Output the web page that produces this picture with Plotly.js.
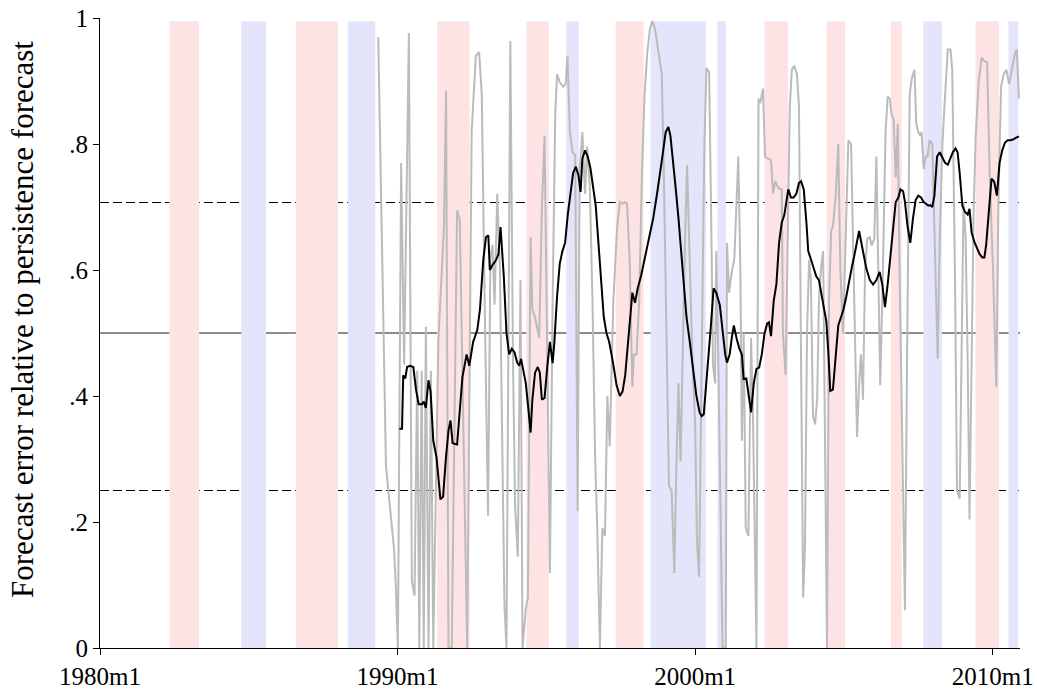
<!DOCTYPE html>
<html>
<head>
<meta charset="utf-8">
<script src="https://cdn.plot.ly/plotly-3.0.1.min.js"></script>
<style>html,body{margin:0;padding:0;background:#fff;}#chart{width:1037px;height:692px;}</style>
</head>
<body>
<div id="chart"></div>
<script>
// x tick labels (Stata-style monthly dates)
var xTickVals = [1980, 1990, 2000, 2010];
var xTickText = ["1980m1", "1990m1", "2000m1", "2010m1"];
var yTickVals = [0, 0.2, 0.4, 0.6, 0.8, 1];
var yTickText = ["0", ".2", ".4", ".6", ".8", "1"];

// shaded periods (decimal years)
var pinkStart = [1982.33, 1986.58, 1991.33, 1994.33, 1997.33, 2002.33, 2004.42, 2006.58, 2009.42];
var pinkEnd   = [1983.33, 1988.00, 1992.42, 1995.08, 1998.27, 2003.12, 2005.04, 2006.94, 2010.21];
var blueStart = [1984.75, 1988.33, 1995.67, 1998.50, 2000.75, 2007.67, 2010.53];
var blueEnd   = [1985.58, 1989.25, 1996.09, 2000.36, 2001.03, 2008.29, 2010.86];

// reference lines
var refSolid = [0.5];
var refDashed = [0.7071, 0.25];

// grey series: raw relative forecast error
var greyX = [1989.35,1989.61,1989.88,1989.94,1990.01,1990.12,1990.22,1990.38,1990.48,1990.57,1990.66,1990.73,1990.81,1990.88,1990.95,1991.04,1991.12,1991.20,1991.37,1991.48,1991.56,1991.63,1991.71,1991.82,1992.00,1992.09,1992.34,1992.49,1992.63,1992.74,1992.83,1992.93,1993.04,1993.12,1993.19,1993.26,1993.35,1993.44,1993.53,1993.59,1993.66,1993.79,1993.88,1993.95,1994.04,1994.13,1994.20,1994.31,1994.38,1994.47,1994.53,1994.62,1994.76,1994.85,1994.94,1995.03,1995.12,1995.21,1995.30,1995.36,1995.45,1995.56,1995.65,1995.71,1995.79,1995.88,1995.97,1996.05,1996.12,1996.21,1996.30,1996.37,1996.46,1996.55,1996.64,1996.71,1996.80,1996.88,1996.97,1997.05,1997.13,1997.25,1997.38,1997.47,1997.56,1997.65,1997.71,1997.80,1997.89,1997.94,1998.03,1998.12,1998.21,1998.30,1998.39,1998.48,1998.56,1998.65,1998.77,1998.88,1998.95,1999.03,1999.12,1999.21,1999.30,1999.37,1999.44,1999.51,1999.59,1999.66,1999.73,1999.82,1999.91,2000.00,2000.06,2000.13,2000.22,2000.31,2000.38,2000.47,2000.54,2000.60,2000.67,2000.71,2000.78,2000.85,2000.92,2001.03,2001.07,2001.14,2001.21,2001.32,2001.39,2001.45,2001.52,2001.57,2001.63,2001.70,2001.79,2001.88,2001.95,2002.01,2002.06,2002.13,2002.19,2002.28,2002.35,2002.44,2002.55,2002.62,2002.69,2002.75,2002.84,2002.91,2002.95,2003.04,2003.11,2003.18,2003.25,2003.33,2003.42,2003.49,2003.56,2003.63,2003.69,2003.76,2003.83,2003.89,2003.96,2004.03,2004.10,2004.16,2004.23,2004.30,2004.36,2004.43,2004.50,2004.57,2004.63,2004.72,2004.81,2004.88,2004.97,2005.06,2005.15,2005.24,2005.31,2005.37,2005.44,2005.51,2005.57,2005.64,2005.71,2005.78,2005.87,2005.93,2006.02,2006.09,2006.16,2006.22,2006.31,2006.40,2006.47,2006.54,2006.60,2006.67,2006.74,2006.81,2006.87,2006.96,2007.05,2007.12,2007.21,2007.28,2007.37,2007.43,2007.50,2007.57,2007.61,2007.68,2007.75,2007.81,2007.88,2007.97,2008.06,2008.15,2008.22,2008.31,2008.40,2008.49,2008.58,2008.64,2008.73,2008.80,2008.89,2008.96,2009.02,2009.09,2009.16,2009.22,2009.29,2009.36,2009.43,2009.53,2009.63,2009.72,2009.81,2009.90,2010.01,2010.08,2010.12,2010.19,2010.28,2010.37,2010.46,2010.55,2010.64,2010.75,2010.81,2010.88];
var greyY = [0.97,0.289,0.158,0.10,0.0,0.77,0.45,0.976,0.106,0.083,0.44,0.0,0.44,0.0,0.51,0.0,0.44,0.0,0.486,0.59,0.67,0.885,0.0,0.0,0.695,0.68,0.0,0.82,0.94,0.946,0.878,0.54,0.21,0.62,0.64,0.545,0.721,0.60,0.30,0.07,0.0,0.963,0.45,0.224,0.145,0.584,0.0,0.063,0.08,0.652,0.538,0.525,0.492,0.70,0.813,0.50,0.119,0.55,0.85,0.911,0.898,0.891,0.895,0.940,0.82,0.787,0.783,0.217,0.760,0.819,0.721,0.796,0.734,0.55,0.30,0.191,0.0,0.19,0.178,0.40,0.32,0.55,0.669,0.708,0.705,0.708,0.705,0.616,0.414,0.466,0.466,0.55,0.75,0.878,0.944,0.983,0.995,0.983,0.944,0.911,0.747,0.50,0.257,0.25,0.119,0.289,0.420,0.296,0.50,0.65,0.767,0.60,0.453,0.355,0.171,0.113,0.45,0.80,0.921,0.914,0.68,0.45,0.420,0.630,0.453,0.20,0.0,0.0,0.643,0.564,0.59,0.62,0.72,0.78,0.60,0.329,0.50,0.191,0.178,0.492,0.35,0.15,0.0,0.872,0.865,0.888,0.780,0.777,0.774,0.721,0.741,0.734,0.728,0.728,0.499,0.433,0.62,0.859,0.918,0.924,0.911,0.859,0.45,0.08,0.158,0.50,0.616,0.584,0.368,0.355,0.394,0.551,0.603,0.63,0.35,0.0,0.551,0.662,0.669,0.715,0.80,0.60,0.499,0.65,0.806,0.800,0.63,0.45,0.335,0.42,0.466,0.394,0.60,0.649,0.652,0.639,0.649,0.780,0.60,0.417,0.60,0.82,0.875,0.872,0.846,0.839,0.747,0.832,0.60,0.30,0.06,0.45,0.878,0.904,0.918,0.832,0.819,0.813,0.819,0.760,0.780,0.780,0.806,0.800,0.65,0.459,0.65,0.80,0.878,0.950,0.950,0.918,0.60,0.25,0.237,0.50,0.708,0.65,0.45,0.204,0.50,0.70,0.813,0.90,0.937,0.931,0.93,0.75,0.60,0.50,0.414,0.70,0.891,0.911,0.918,0.895,0.92,0.944,0.950,0.872];

// black series: smoothed relative forecast error
var blackX = [1990.06,1990.15,1990.19,1990.26,1990.32,1990.41,1990.53,1990.62,1990.71,1990.82,1990.88,1990.95,1991.04,1991.11,1991.20,1991.31,1991.44,1991.53,1991.62,1991.71,1991.78,1991.85,1992.00,1992.09,1992.18,1992.32,1992.41,1992.54,1992.68,1992.77,1992.88,1992.97,1993.05,1993.10,1993.19,1993.30,1993.39,1993.46,1993.57,1993.66,1993.75,1993.84,1993.93,1994.02,1994.09,1994.15,1994.22,1994.31,1994.38,1994.47,1994.53,1994.62,1994.71,1994.78,1994.85,1994.94,1995.03,1995.12,1995.21,1995.27,1995.36,1995.45,1995.54,1995.63,1995.72,1995.81,1995.90,1995.99,1996.08,1996.15,1996.21,1996.30,1996.39,1996.48,1996.57,1996.66,1996.75,1996.84,1996.93,1997.02,1997.11,1997.24,1997.36,1997.47,1997.56,1997.65,1997.74,1997.83,1997.89,1997.98,1998.07,1998.18,1998.32,1998.45,1998.59,1998.72,1998.83,1998.92,1999.01,1999.10,1999.17,1999.26,1999.35,1999.44,1999.53,1999.62,1999.71,1999.82,1999.93,2000.04,2000.15,2000.22,2000.29,2000.38,2000.47,2000.54,2000.62,2000.71,2000.83,2000.92,2001.01,2001.07,2001.16,2001.23,2001.30,2001.39,2001.48,2001.57,2001.63,2001.72,2001.79,2001.88,2001.97,2002.06,2002.15,2002.24,2002.33,2002.42,2002.48,2002.55,2002.64,2002.73,2002.82,2002.91,2003.00,2003.07,2003.13,2003.22,2003.31,2003.40,2003.49,2003.56,2003.65,2003.74,2003.80,2003.89,2003.98,2004.07,2004.16,2004.25,2004.34,2004.41,2004.48,2004.54,2004.63,2004.72,2004.81,2004.90,2004.99,2005.08,2005.17,2005.26,2005.35,2005.42,2005.51,2005.55,2005.64,2005.75,2005.87,2005.98,2006.09,2006.20,2006.29,2006.38,2006.47,2006.56,2006.65,2006.74,2006.83,2006.90,2006.99,2007.05,2007.14,2007.23,2007.32,2007.41,2007.50,2007.59,2007.68,2007.77,2007.84,2007.90,2007.97,2008.04,2008.13,2008.22,2008.31,2008.40,2008.49,2008.58,2008.66,2008.75,2008.82,2008.89,2008.98,2009.07,2009.16,2009.22,2009.29,2009.38,2009.47,2009.56,2009.65,2009.72,2009.78,2009.87,2009.96,2010.05,2010.14,2010.23,2010.32,2010.41,2010.50,2010.59,2010.68,2010.79,2010.88];
var blackY = [0.348,0.348,0.433,0.428,0.446,0.448,0.446,0.410,0.387,0.387,0.391,0.381,0.425,0.407,0.329,0.302,0.236,0.240,0.299,0.345,0.361,0.325,0.323,0.374,0.430,0.466,0.448,0.486,0.505,0.538,0.616,0.652,0.655,0.600,0.608,0.615,0.625,0.668,0.590,0.500,0.466,0.475,0.469,0.453,0.448,0.459,0.443,0.420,0.387,0.342,0.394,0.437,0.446,0.437,0.394,0.397,0.446,0.486,0.452,0.486,0.558,0.610,0.630,0.643,0.688,0.725,0.754,0.764,0.750,0.724,0.777,0.790,0.780,0.762,0.734,0.702,0.643,0.584,0.525,0.500,0.486,0.453,0.417,0.400,0.407,0.433,0.486,0.531,0.564,0.548,0.571,0.590,0.623,0.652,0.682,0.721,0.754,0.787,0.819,0.827,0.813,0.774,0.728,0.682,0.630,0.577,0.525,0.486,0.440,0.401,0.374,0.368,0.371,0.420,0.473,0.518,0.571,0.564,0.544,0.499,0.466,0.453,0.466,0.492,0.512,0.492,0.476,0.466,0.427,0.428,0.401,0.374,0.420,0.443,0.445,0.466,0.499,0.515,0.517,0.495,0.551,0.577,0.643,0.675,0.688,0.708,0.728,0.715,0.715,0.721,0.738,0.741,0.728,0.675,0.630,0.617,0.603,0.590,0.584,0.558,0.538,0.518,0.466,0.408,0.410,0.466,0.512,0.525,0.538,0.558,0.584,0.603,0.623,0.643,0.662,0.652,0.630,0.603,0.584,0.577,0.584,0.597,0.577,0.541,0.577,0.623,0.669,0.708,0.715,0.728,0.725,0.708,0.669,0.643,0.682,0.711,0.718,0.715,0.708,0.705,0.702,0.703,0.700,0.718,0.780,0.787,0.777,0.770,0.767,0.777,0.787,0.793,0.787,0.754,0.702,0.692,0.688,0.697,0.660,0.645,0.635,0.625,0.620,0.620,0.640,0.700,0.745,0.740,0.718,0.770,0.790,0.802,0.806,0.806,0.807,0.810,0.812];

var shapes = [];
for (var i = 0; i < pinkStart.length; i++) {
  shapes.push({type: 'rect', xref: 'x', yref: 'y', x0: pinkStart[i], x1: pinkEnd[i], y0: 0, y1: 0.995,
    fillcolor: '#fde3e4', line: {width: 0}, layer: 'below'});
}
for (var j = 0; j < blueStart.length; j++) {
  shapes.push({type: 'rect', xref: 'x', yref: 'y', x0: blueStart[j], x1: blueEnd[j], y0: 0, y1: 0.995,
    fillcolor: '#e4e4fb', line: {width: 0}, layer: 'below'});
}
refSolid.forEach(function (v) {
  shapes.push({type: 'line', xref: 'paper', yref: 'y', x0: 0, x1: 1, y0: v, y1: v,
    line: {color: '#1a1a1a', width: 1}, layer: 'below'});
});
refDashed.forEach(function (v) {
  shapes.push({type: 'line', xref: 'paper', yref: 'y', x0: 0, x1: 1, y0: v, y1: v,
    line: {color: '#000000', width: 1, dash: '9px,4px'}, layer: 'below'});
});

var traces = [
  {x: greyX, y: greyY, type: 'scatter', mode: 'lines', line: {color: '#bbbbbb', width: 2}, hoverinfo: 'skip'},
  {x: blackX, y: blackY, type: 'scatter', mode: 'lines', line: {color: '#000000', width: 2}, hoverinfo: 'skip'}
];

var serif = '"Liberation Serif", "DejaVu Serif", serif';
var layout = {
  width: 1037, height: 692,
  margin: {l: 100, r: 17, t: 18, b: 44, pad: 0},
  paper_bgcolor: '#ffffff', plot_bgcolor: '#ffffff',
  showlegend: false,
  font: {family: serif, color: '#000000', size: 26},
  xaxis: {
    range: [1980, 2010.917], tickvals: xTickVals, ticktext: xTickText,
    ticks: 'outside', ticklen: 6, tickwidth: 1, tickcolor: '#000',
    showline: true, linecolor: '#000', linewidth: 1, showgrid: false, zeroline: false,
    tickfont: {family: serif, size: 25}, fixedrange: true
  },
  yaxis: {
    range: [0, 1], tickvals: yTickVals, ticktext: yTickText,
    ticks: 'outside', ticklen: 6, tickwidth: 1, tickcolor: '#000',
    showline: true, linecolor: '#000', linewidth: 1, showgrid: false, zeroline: false,
    tickfont: {family: serif, size: 25}, fixedrange: true
  },
  shapes: shapes,
  annotations: [{
    text: 'Forecast error relative to persistence forecast',
    xref: 'paper', yref: 'paper', x: -0.085, y: 0.522,
    xanchor: 'center', yanchor: 'middle', textangle: -90, showarrow: false,
    font: {family: serif, size: 31, color: '#000'}
  }]
};

Plotly.newPlot('chart', traces, layout, {staticPlot: true, displayModeBar: false});
</script>
</body>
</html>
